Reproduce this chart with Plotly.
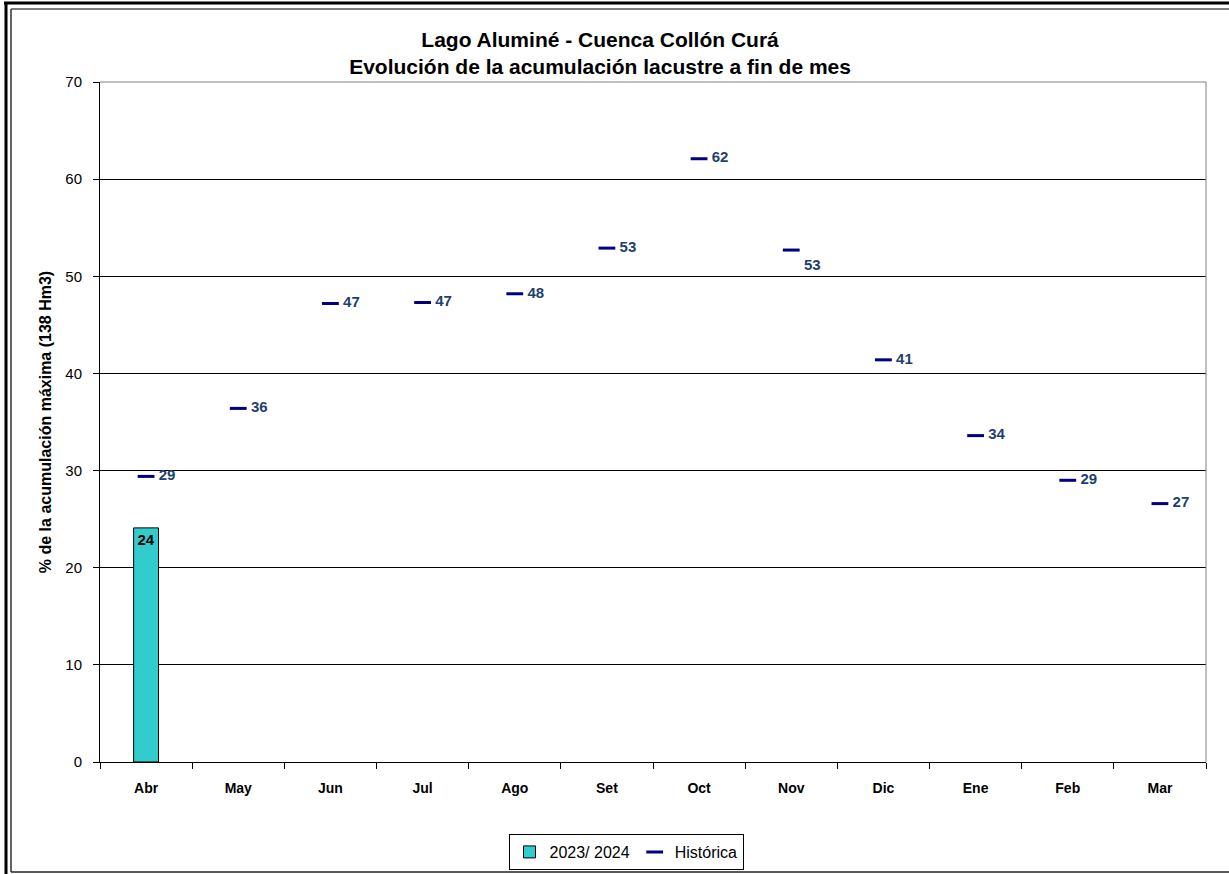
import plotly.graph_objects as go

months = ["Abr", "May", "Jun", "Jul", "Ago", "Set", "Oct", "Nov", "Dic", "Ene", "Feb", "Mar"]
actual_months = ["Abr"]
actual_values = [24.1]
historic_values = [29.4, 36.4, 47.2, 47.3, 48.2, 52.9, 62.1, 52.7, 41.4, 33.6, 29.0, 26.6]
historic_textpos = ["middle right"] * 7 + ["bottom right"] + ["middle right"] * 4
y_ticks = [0, 10, 20, 30, 40, 50, 60, 70]

FONT = "Liberation Sans, Arial, sans-serif"
L, R, T, B = 100, 23, 82, 112
W, H = 1229, 874
pw, ph = W - L - R, H - T - B


def px(x):
    return (x - L) / pw


def py(y):
    return (H - B - y) / ph


fig = go.Figure()
fig.add_trace(go.Bar(
    x=actual_months, y=actual_values, name="2023/ 2024",
    marker=dict(color="#33CCCC", line=dict(color="black", width=1)),
    width=0.27,
    texttemplate="%{y:.0f}", textposition="inside", insidetextanchor="end",
    textfont=dict(family=FONT, size=15, color="black", weight="bold"),
    cliponaxis=False,
))
fig.add_trace(go.Scatter(
    x=months, y=historic_values, name="Histórica", mode="markers+text",
    marker=dict(symbol="line-ew", size=12, line=dict(color="#000080", width=3)),
    texttemplate=" %{y:.0f}", textposition=historic_textpos,
    textfont=dict(family=FONT, size=15, color="#1F3F6E", weight="bold"),
    cliponaxis=False,
))

fig.update_layout(
    width=W, height=H,
    margin=dict(l=L, r=R, t=T, b=B),
    paper_bgcolor="white", plot_bgcolor="white",
    font=dict(family=FONT, size=15, color="black"),
    title=dict(
        text="<b>Lago Aluminé - Cuenca Collón Curá<br>Evolución de la acumulación lacustre a fin de mes</b>",
        x=px(640), xanchor="center", y=1 - 47 / H, yanchor="top",
        font=dict(family=FONT, size=21, color="black"),
    ),
    showlegend=True,
    legend=dict(
        orientation="h", x=626 / W, xref="container", xanchor="center",
        y=4 / H, yref="container", yanchor="bottom",
        bordercolor="black", borderwidth=1, font=dict(family=FONT, size=16),
        itemwidth=30, traceorder="normal", tracegroupgap=0,
    ),
)
fig.update_xaxes(
    categoryorder="array", categoryarray=months,
    range=[-0.5, 11.5],
    showline=True, linecolor="black", linewidth=1,
    ticks="outside", ticklen=6, tickcolor="black", tickson="boundaries",
    ticklabelstandoff=13,
    tickfont=dict(family=FONT, size=14, color="black", weight="bold"),
    showgrid=False, mirror=False,
)
fig.update_yaxes(
    range=[0, 70], tickvals=y_ticks,
    showline=True, linecolor="black", linewidth=1,
    ticks="outside", ticklen=6, tickcolor="black",
    ticklabelstandoff=8,
    showgrid=True, gridcolor="black", gridwidth=1,
    zeroline=False,
    tickfont=dict(family=FONT, size=15, color="black"),
    title=dict(text="<b>% de la acumulación máxima (138 Hm3)</b>",
               font=dict(family=FONT, size=16, color="black"), standoff=9),
)

# plot area top/right border (gray)
fig.add_shape(type="line", xref="paper", yref="paper", x0=0, x1=1, y0=1, y1=1,
              line=dict(color="#808080", width=1))
fig.add_shape(type="line", xref="paper", yref="paper", x0=1, x1=1, y0=0, y1=1,
              line=dict(color="#808080", width=1))


def frame_line(x0, y0, x1, y1, color, width):
    fig.add_shape(type="line", xref="paper", yref="paper",
                  x0=px(x0), y0=py(y0), x1=px(x1), y1=py(y1),
                  line=dict(color=color, width=width), layer="above")


# outer (cropped) double frame: thick black outside, thin dark grey inside
frame_line(4, 3, W + 2, 3, "black", 3)
frame_line(6, 2, 6, H + 2, "black", 3)
frame_line(11, 9, W + 2, 9, "#505050", 1.5)
frame_line(11, 9, 11, 872, "#303030", 1.5)
frame_line(11, 872, W + 2, 872, "#202020", 1.5)

fig.write_html("out.html", config={"displayModeBar": False},
               post_script="document.body.style.margin='0';")
